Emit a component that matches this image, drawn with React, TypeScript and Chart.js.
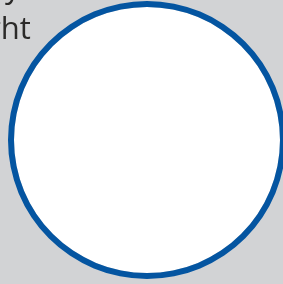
import React, { useEffect, useRef } from "react";
import { Chart, registerables } from "chart.js";

Chart.register(...registerables);

const categories = ["Rim", "Face"];
const ringValues = [1];
const faceValues = [1];
const ringWeights = [6, 133];
const textLines = ["y", "ght"];

export default function App() {
  const ref = useRef<HTMLCanvasElement | null>(null);

  useEffect(() => {
    document.body.style.margin = "0";
    if (!ref.current) return;
    const chart = new Chart(ref.current, {
      type: "doughnut",
      data: {
        labels: [categories[0]],
        datasets: [
          {
            label: categories[0],
            data: ringValues,
            backgroundColor: ["#0455a1"],
            borderWidth: 0,
            weight: ringWeights[0],
          },
          {
            label: categories[1],
            data: faceValues,
            backgroundColor: ["#ffffff"],
            borderWidth: 0,
            weight: ringWeights[1],
          },
        ],
      },
      options: {
        animation: false,
        responsive: false,
        cutout: 0,
        layout: { padding: { top: 1, bottom: 5, left: 0, right: 0 } },
        plugins: {
          legend: { display: false },
          tooltip: { enabled: false },
          title: { display: false },
        },
      },
    });
    return () => chart.destroy();
  }, []);

  return (
    <div
      style={{
        position: "absolute",
        left: 0,
        top: 0,
        width: 283,
        height: 284,
        overflow: "hidden",
        background: "#d2d3d5",
      }}
    >
      <canvas
        ref={ref}
        width={294}
        height={284}
        style={{ position: "absolute", left: 0, top: 0, width: 294, height: 284 }}
      />
      <div
        style={{
          position: "absolute",
          left: 5,
          top: -29,
          fontFamily: "'Open Sans', sans-serif",
          fontSize: 31,
          lineHeight: "31px",
          color: "#2b2a29",
          whiteSpace: "nowrap",
        }}
      >
        {textLines[0]}
      </div>
      <div
        style={{
          position: "absolute",
          left: -16,
          top: 11.5,
          fontFamily: "'Open Sans', sans-serif",
          fontSize: 31,
          lineHeight: "31px",
          color: "#2b2a29",
          whiteSpace: "nowrap",
        }}
      >
        {textLines[1]}
      </div>
    </div>
  );
}
